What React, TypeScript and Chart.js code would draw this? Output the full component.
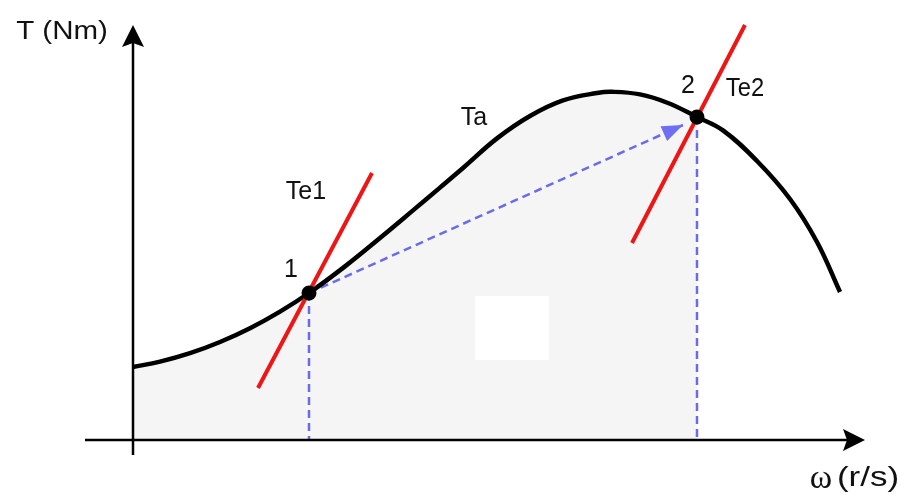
import React, { useEffect, useRef } from "react";
import { Chart, registerables } from "chart.js";

Chart.register(...registerables);

// Ta curve: angular speed ω (r/s) and load torque T (Nm)
const curveOmega = [0, 0.54, 1.14, 1.74, 2.34, 2.94, 3.52, 4.24, 4.94, 5.6, 6.14, 6.6, 7.28, 7.94, 8.6, 9.28, 9.58, 10.14, 10.7, 11.28, 11.8, 12.48, 13.14, 13.68, 14.14];
const curveTorque = [1.825, 1.958, 2.17, 2.45, 2.795, 3.21, 3.675, 4.34, 5.05, 5.74, 6.31, 6.8, 7.54, 8.1, 8.49, 8.675, 8.705, 8.64, 8.425, 8.075, 7.74, 6.975, 6.025, 4.95, 3.7];

// operating points 1 and 2
const pointOmega = [3.52, 11.28];
const pointTorque = [3.675, 8.075];

// Te1 and Te2 characteristic segments (start, end)
const te1Omega = [2.5, 4.78];
const te1Torque = [1.3, 6.675];
const te2Omega = [9.98, 12.24];
const te2Torque = [4.925, 10.375];

// dashed arrow from point 1 towards point 2 (tip)
const arrowOmega = [3.52, 11.0];
const arrowTorque = [3.675, 7.875];

// axis extents
const xAxisRange = [-0.96, 14.64];
const yAxisRange = [-0.375, 10.375];

// hidden white patch
const patchOmega = [6.84, 8.32];
const patchTorque = [2.0, 3.6];

const labelTexts = ["T (Nm)", "Ta", "Te1", "1", "2", "Te2", "ω", "(r/s)"];
// layout (data units) for each label: [x, y, fontSize, xStretch, family]
const labelLayout: [number, number, number, number, string][] = [
  [-1.42, 10.2, 25, 1.18, "'Liberation Sans', Arial, sans-serif"],
  [6.82, 8.05, 25, 1.0, "'Liberation Sans', Arial, sans-serif"],
  [3.46, 6.2, 25, 1.0, "'Liberation Sans', Arial, sans-serif"],
  [3.16, 4.25, 25, 1.0, "'Liberation Sans', Arial, sans-serif"],
  [11.1, 8.85, 25, 1.0, "'Liberation Sans', Arial, sans-serif"],
  [12.24, 8.775, 25, 0.95, "'Liberation Sans', Arial, sans-serif"],
  [13.76, -0.97, 34, 1.0, "'Liberation Serif', 'Times New Roman', serif"],
  [14.7, -0.95, 28, 1.25, "'Liberation Sans', Arial, sans-serif"],
];

const BLUE = "#6b6be8";
const RED = "#ee1515";

const zip = (xs: number[], ys: number[]) => xs.map((v, i) => ({ x: v, y: ys[i] }));

const diagramPlugin = {
  id: "diagram",
  beforeDatasetsDraw(chart: any) {
    const { ctx, scales } = chart;
    const xs = scales.x;
    const ys = scales.y;
    const meta = chart.getDatasetMeta(0);
    const line = meta.dataset;
    const pts = meta.data;
    const x0 = xs.getPixelForValue(0);
    const x2 = xs.getPixelForValue(pointOmega[1]);
    const y0 = ys.getPixelForValue(0);
    ctx.save();
    ctx.beginPath();
    ctx.rect(x0, 0, x2 - x0, y0);
    ctx.clip();
    ctx.beginPath();
    line.updateControlPoints(chart.chartArea, "x");
    line.path(ctx);
    ctx.lineTo(pts[pts.length - 1].x, y0);
    ctx.lineTo(pts[0].x, y0);
    ctx.closePath();
    ctx.fillStyle = "#f5f5f5";
    ctx.fill();
    ctx.restore();

    // white patch
    const px1 = xs.getPixelForValue(patchOmega[0]);
    const px2 = xs.getPixelForValue(patchOmega[1]);
    const py1 = ys.getPixelForValue(patchTorque[1]);
    const py2 = ys.getPixelForValue(patchTorque[0]);
    ctx.save();
    ctx.fillStyle = "#ffffff";
    ctx.fillRect(px1, py1, px2 - px1, py2 - py1);
    ctx.restore();
  },
  afterDatasetsDraw(chart: any) {
    const { ctx, scales } = chart;
    const xs = scales.x;
    const ys = scales.y;
    const ox = xs.getPixelForValue(0);
    const oy = ys.getPixelForValue(0);
    ctx.save();
    ctx.strokeStyle = "#000";
    ctx.fillStyle = "#000";
    ctx.lineWidth = 2.5;
    // y axis
    const yTop = ys.getPixelForValue(yAxisRange[1]);
    const yBot = ys.getPixelForValue(yAxisRange[0]);
    ctx.beginPath();
    ctx.moveTo(ox, yBot);
    ctx.lineTo(ox, yTop + 15);
    ctx.stroke();
    ctx.beginPath();
    ctx.moveTo(ox, yTop);
    ctx.lineTo(ox - 11, yTop + 22);
    ctx.lineTo(ox, yTop + 18);
    ctx.lineTo(ox + 11, yTop + 22);
    ctx.closePath();
    ctx.fill();
    // x axis
    const xL = xs.getPixelForValue(xAxisRange[0]);
    const xR = xs.getPixelForValue(xAxisRange[1]);
    ctx.beginPath();
    ctx.moveTo(xL, oy);
    ctx.lineTo(xR - 15, oy);
    ctx.stroke();
    ctx.beginPath();
    ctx.moveTo(xR, oy);
    ctx.lineTo(xR - 22, oy - 11);
    ctx.lineTo(xR - 18, oy);
    ctx.lineTo(xR - 22, oy + 11);
    ctx.closePath();
    ctx.fill();

    // arrowhead of dashed arrow
    const am = chart.getDatasetMeta(5);
    const a0 = am.data[0];
    const a1 = am.data[1];
    const ang = Math.atan2(a1.y - a0.y, a1.x - a0.x);
    const L = 21;
    const W = 8;
    ctx.fillStyle = "#6f6ff2";
    ctx.beginPath();
    ctx.moveTo(a1.x, a1.y);
    ctx.lineTo(a1.x - L * Math.cos(ang) + W * Math.sin(ang), a1.y - L * Math.sin(ang) - W * Math.cos(ang));
    ctx.lineTo(a1.x - L * Math.cos(ang) - W * Math.sin(ang), a1.y - L * Math.sin(ang) + W * Math.cos(ang));
    ctx.closePath();
    ctx.fill();

    // labels
    ctx.fillStyle = "#111";
    ctx.textAlign = "center";
    ctx.textBaseline = "middle";
    labelTexts.forEach((t, i) => {
      const [lx, ly, size, stretch, fam] = labelLayout[i];
      const px = xs.getPixelForValue(lx);
      const py = ys.getPixelForValue(ly);
      ctx.save();
      ctx.font = `${size}px ${fam}`;
      ctx.translate(px, py);
      ctx.scale(stretch, 1);
      ctx.fillText(t, 0, 0);
      ctx.restore();
    });
    ctx.restore();
  },
};

export default function App() {
  const ref = useRef<HTMLCanvasElement | null>(null);
  useEffect(() => {
    if (!ref.current) return;
    const chart = new Chart(ref.current, {
      type: "scatter",
      data: {
        datasets: [
          {
            label: "Ta",
            data: zip(curveOmega, curveTorque),
            showLine: true,
            borderColor: "#000",
            borderWidth: 4.5,
            pointRadius: 0,
            tension: 0.4,
            fill: false,
            order: 2,
          } as any,
          {
            label: "Points",
            data: zip(pointOmega, pointTorque),
            showLine: false,
            pointRadius: 7.5,
            pointBackgroundColor: "#000",
            pointBorderWidth: 0,
            order: 0,
          },
          {
            label: "Te1",
            data: zip(te1Omega, te1Torque),
            showLine: true,
            borderColor: RED,
            borderWidth: 4,
            pointRadius: 0,
            order: 1,
          },
          {
            label: "Te2",
            data: zip(te2Omega, te2Torque),
            showLine: true,
            borderColor: RED,
            borderWidth: 4,
            pointRadius: 0,
            order: 1,
          },
          {
            label: "drop1",
            data: [
              { x: pointOmega[0], y: pointTorque[0] },
              { x: pointOmega[0], y: 0 },
            ],
            showLine: true,
            borderColor: BLUE,
            borderWidth: 2.5,
            borderDash: [8, 5],
            pointRadius: 0,
            order: 3,
          },
          {
            label: "arrow",
            data: zip(arrowOmega, arrowTorque),
            showLine: true,
            borderColor: BLUE,
            borderWidth: 2.5,
            borderDash: [8, 5],
            pointRadius: 0,
            order: 3,
          },
          {
            label: "drop2",
            data: [
              { x: pointOmega[1], y: pointTorque[1] },
              { x: pointOmega[1], y: 0 },
            ],
            showLine: true,
            borderColor: BLUE,
            borderWidth: 2.5,
            borderDash: [8, 5],
            pointRadius: 0,
            order: 3,
          },
        ],
      },
      options: {
        animation: false,
        responsive: false,
        maintainAspectRatio: false,
        layout: { padding: 0, autoPadding: false },
        plugins: { legend: { display: false }, tooltip: { enabled: false } },
        events: [],
        scales: {
          x: { type: "linear", display: false, min: -2.66, max: 15.44 },
          y: { type: "linear", display: false, min: -1.45, max: 11 },
        },
      },
      plugins: [diagramPlugin],
    });
    return () => chart.destroy();
  }, []);
  return (
    <div style={{ position: "fixed", left: 0, top: 0, width: 905, height: 498, background: "#fff" }}>
      <canvas ref={ref} width={905} height={498} style={{ display: "block" }} />
    </div>
  );
}
